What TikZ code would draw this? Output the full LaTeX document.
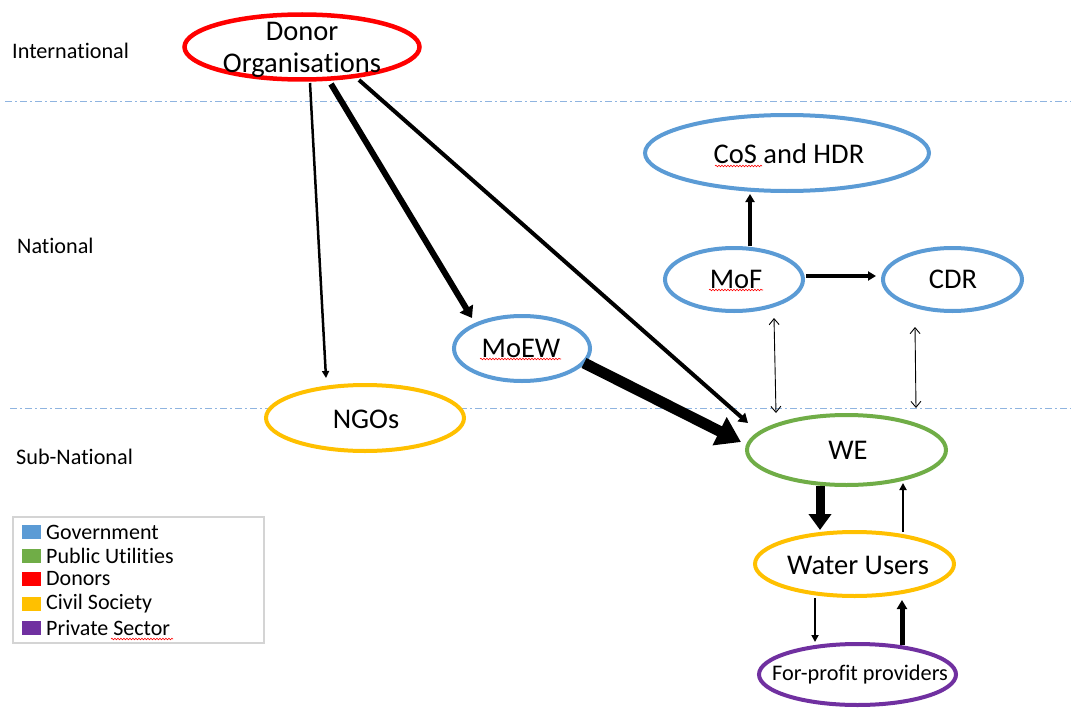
\documentclass[tikz,border=0pt]{standalone}
\usepackage{fontspec}
\setmainfont{Carlito}[Ligatures={NoCommon}]
\usetikzlibrary{shapes.geometric,arrows.meta,decorations.pathmorphing}
\definecolor{gov}{HTML}{5B9BD5}
\definecolor{util}{HTML}{70AD47}
\definecolor{donorc}{HTML}{FF0000}
\definecolor{civil}{HTML}{FFC000}
\definecolor{priv}{HTML}{7030A0}
\definecolor{sepc}{HTML}{8FB4E0}
\definecolor{legline}{HTML}{D4D4D4}
\begin{document}
\begin{tikzpicture}[x=1pt,y=-1pt,
  ent/.style={ellipse, draw, fill=white, line width=4pt, inner sep=0pt},
  etxt/.style={inner sep=0pt, font=\fontsize{28.5}{32}\selectfont},
  lvl/.style={anchor=west, inner sep=0pt, font=\fontsize{22.2}{26}\selectfont},
  legtxt/.style={anchor=west, inner sep=0pt, font=\fontsize{22}{26}\selectfont},
  legsq/.style={inner sep=0pt, minimum width=19pt, minimum height=14pt},
  sepline/.style={sepc, line width=1pt, dash pattern=on 7pt off 3pt on 2pt off 3pt},
  spell/.style={red, line width=0.6pt, decorate, decoration={snake, segment length=3pt, amplitude=0.8pt}},
  dbl/.style={line width=0.9pt, {Straight Barb[length=6pt,width=10pt]}-{Straight Barb[length=6pt,width=10pt]}}
]
\useasboundingbox (0,0) rectangle (1071,709);

% level separators
\draw[sepline] (5,101) -- (1071,101);
\draw[sepline] (10,408) -- (1071,408);

% level labels
\node[lvl] (lint) at (12,51) {International};
\node[lvl] (lnat) at (17,246) {National};
\node[lvl] (lsub) at (16,457) {Sub-National};

% entities
\node[ent, draw=donorc, line width=4.5pt, minimum width=235pt, minimum height=65pt] (donor) at (302,47) {};
\node[etxt, align=center] (donor-t) at (302,50) {Donor\\Organisations};
\node[ent, draw=gov, minimum width=284pt, minimum height=76pt] (cos) at (787,153) {};
\node[etxt] (cos-t) at (789,154) {CoS and HDR};
\node[ent, draw=gov, minimum width=138pt, minimum height=63pt] (mof) at (734,279.5) {};
\node[etxt] (mof-t) at (736,279.5) {MoF};
\node[ent, draw=gov, minimum width=139pt, minimum height=63pt] (cdr) at (952.5,279.5) {};
\node[etxt] (cdr-t) at (953,279.5) {CDR};
\node[ent, draw=gov, minimum width=136pt, minimum height=65pt] (moew) at (522,348.5) {};
\node[etxt] (moew-t) at (521,348.5) {MoEW};
\node[ent, draw=civil, minimum width=198pt, minimum height=66pt] (ngos) at (365,418) {};
\node[etxt] (ngos-t) at (366,419) {NGOs};
\node[ent, draw=util, minimum width=199pt, minimum height=70pt] (we) at (846.5,450) {};
\node[etxt] (we-t) at (848,450) {WE};
\node[ent, draw=civil, minimum width=199pt, minimum height=64pt] (water) at (854.5,564) {};
\node[etxt] (water-t) at (858,565) {Water Users};
\node[ent, draw=priv, minimum width=197pt, minimum height=61pt] (fp) at (857.5,674.5) {};
\node[etxt, font=\fontsize{22.3}{25}\selectfont] (fp-t) at (860,675) {For-profit providers};

% connectors
\draw[line width=2.5pt, -{Triangle[length=7pt,width=7pt]}] ([shift={(8,36)}]donor.center) -- ([shift={(-39,-40)}]ngos.center);
\draw[line width=6pt, -{Triangle[length=11pt,width=15pt]}] ([shift={(29,37)}]donor.center) -- ([shift={(-50,-30.5)}]moew.center);
\draw[line width=4pt, -{Triangle[length=9pt,width=11pt]}] ([shift={(57,33)}]donor.center) -- ([shift={(-98.5,-27)}]we.center);
\draw[line width=11pt, -{Triangle[length=24pt,width=30pt]}] ([shift={(62,14.5)}]moew.center) -- ([shift={(-105.5,-8)}]we.center);
\draw[line width=4pt, -{Triangle[length=8pt,width=9pt]}] ([shift={(16,-33.5)}]mof.center) -- ([shift={(-37,41)}]cos.center);
\draw[line width=4pt, -{Triangle[length=8pt,width=9pt]}] ([shift={(72,-3.5)}]mof.center) -- ([shift={(-76.5,-3.5)}]cdr.center);
\draw[dbl] ([shift={(40,38.5)}]mof.center) -- ([shift={(-70.5,-37)}]we.center);
\draw[dbl] ([shift={(-37.5,47.5)}]cdr.center) -- ([shift={(69.5,-42)}]we.center);
\draw[line width=9pt, -{Triangle[length=16pt,width=22pt]}] ([shift={(-26.5,36)}]we.center) -- ([shift={(-34.5,-34)}]water.center);
\draw[line width=2.8pt, -{Triangle[length=7pt,width=7pt]}] ([shift={(48.5,-32)}]water.center) -- ([shift={(56.5,33)}]we.center);
\draw[line width=2.8pt, -{Triangle[length=7pt,width=7pt]}] ([shift={(-39.5,34)}]water.center) -- ([shift={(-42.5,-32.5)}]fp.center);
\draw[line width=5pt, -{Triangle[length=9pt,width=10pt]}] ([shift={(44.5,-29.5)}]fp.center) -- ([shift={(47.5,36)}]water.center);

% spell-check marks
\draw[spell] (715,166) -- (762,166);
\draw[spell] (709,290) -- (763,290);
\draw[spell] (480,359) -- (561,359);

% legend
\node[draw=legline, line width=1.5pt, minimum width=251pt, minimum height=126pt, inner sep=0pt, anchor=north west] (legend) at (12,516) {};
\node[legsq, fill=gov] (sq1) at (31.5,532) {};
\node[legtxt] (t1) at (46,532) {Government};
\node[legsq, fill=util] (sq2) at (31.5,556) {};
\node[legtxt] (t2) at (46,556) {Public Utilities};
\node[legsq, fill=donorc] (sq3) at (31.5,579) {};
\node[legtxt] (t3) at (46,579) {Donors};
\node[legsq, fill=civil] (sq4) at (31.5,604) {};
\node[legtxt] (t4) at (46,604) {Civil Society};
\node[legsq, fill=priv] (sq5) at (31.5,628) {};
\node[legtxt] (t5) at (46,628) {Private Sector};
\draw[spell] (111,639) -- (173,639);
\end{tikzpicture}
\end{document}
